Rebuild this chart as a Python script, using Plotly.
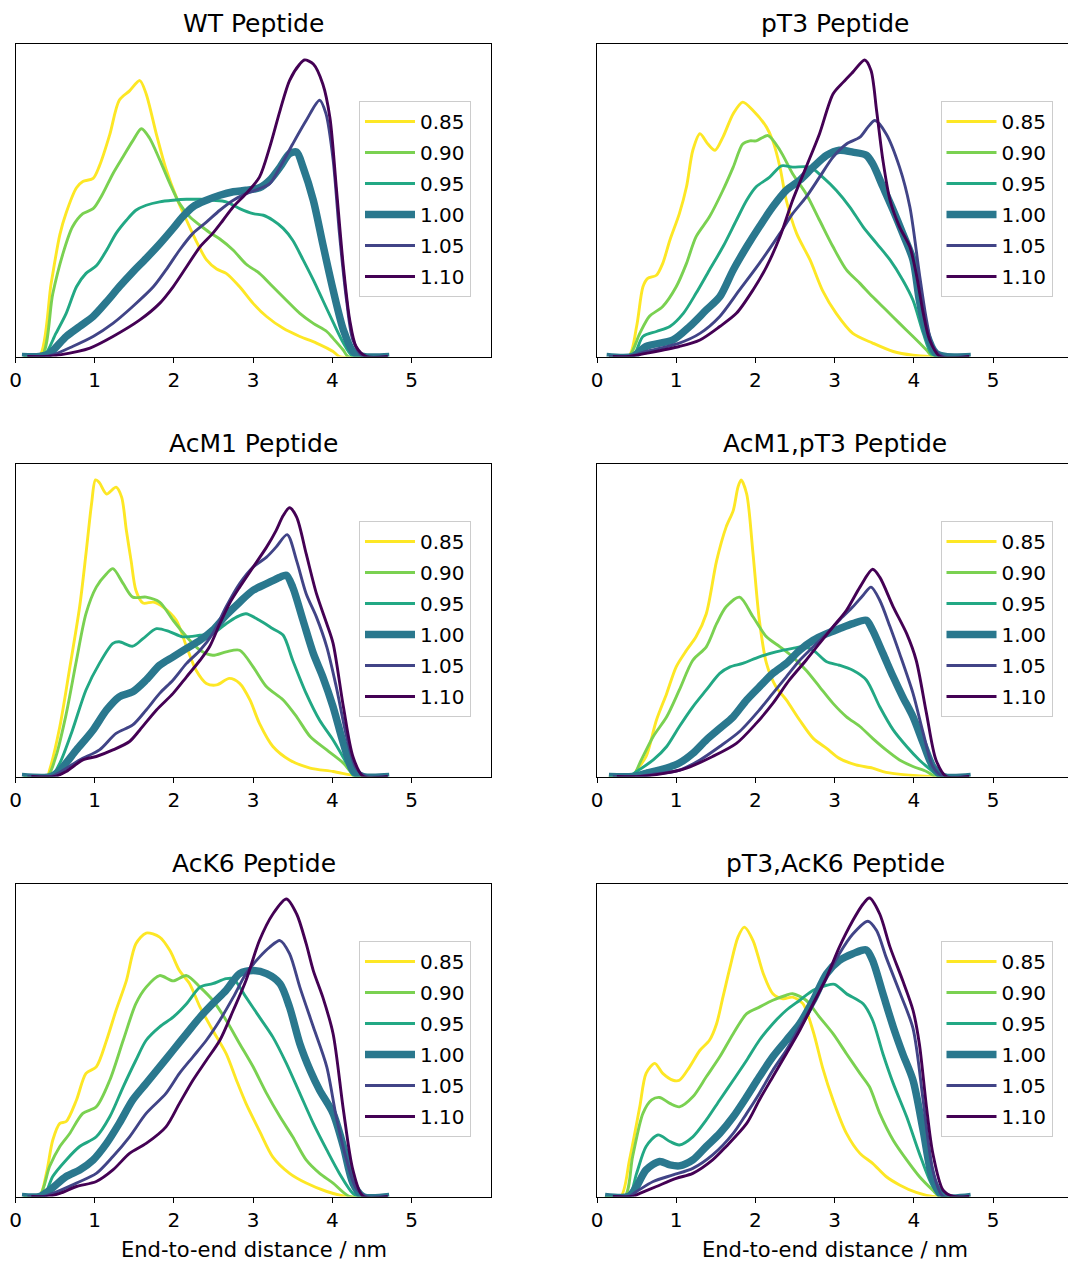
import plotly.graph_objects as go

# ---------------- labels / styling lists ----------------
conc_labels = ["0.85", "0.90", "0.95", "1.00", "1.05", "1.10"]
colors = ["#fde725", "#7ad151", "#22a884", "#2a788e", "#414487", "#440154"]
widths = [2.9, 2.9, 2.9, 7.5, 2.9, 2.9]
panel_titles = ["WT Peptide", "pT3 Peptide", "AcM1 Peptide",
                "AcM1,pT3 Peptide", "AcK6 Peptide", "pT3,AcK6 Peptide"]
x_tick_vals = [0, 1, 2, 3, 4, 5]
x_label = "End-to-end distance / nm"

# ---------------- WT ----------------
wt_085_x = [0.1, 0.3, 0.45, 0.56, 0.64, 0.77, 0.85, 0.98, 1.06, 1.19, 1.31, 1.44, 1.57, 1.65, 1.78, 1.90, 2.03, 2.16, 2.28, 2.41, 2.54, 2.66, 2.83, 3.0, 3.17, 3.38, 3.59, 3.80, 4.01, 4.09, 4.7]
wt_085_y = [0, 0, 0.234, 0.39, 0.46, 0.54, 0.56, 0.57, 0.61, 0.71, 0.82, 0.85, 0.883, 0.84, 0.71, 0.60, 0.51, 0.436, 0.37, 0.31, 0.28, 0.266, 0.223, 0.17, 0.128, 0.09, 0.064, 0.043, 0.016, 0, 0]
wt_090_x = [0.1, 0.33, 0.47, 0.6, 0.72, 0.85, 0.98, 1.10, 1.23, 1.36, 1.48, 1.59, 1.69, 1.82, 1.95, 2.07, 2.2, 2.33, 2.45, 2.58, 2.75, 2.91, 3.08, 3.25, 3.42, 3.59, 3.76, 3.93, 4.01, 4.14, 4.2, 4.7]
wt_090_y = [0, 0, 0.20, 0.33, 0.415, 0.457, 0.473, 0.52, 0.585, 0.64, 0.69, 0.729, 0.70, 0.63, 0.553, 0.49, 0.447, 0.42, 0.397, 0.376, 0.34, 0.296, 0.266, 0.223, 0.18, 0.138, 0.106, 0.08, 0.058, 0.02, 0, 0]
wt_095_x = [0.1, 0.35, 0.51, 0.64, 0.77, 0.89, 1.02, 1.15, 1.27, 1.4, 1.52, 1.65, 1.82, 1.99, 2.16, 2.33, 2.49, 2.66, 2.83, 3.0, 3.13, 3.25, 3.38, 3.5, 3.63, 3.76, 3.88, 4.01, 4.14, 4.24, 4.35, 4.7]
wt_095_y = [0, 0, 0.074, 0.138, 0.223, 0.266, 0.29, 0.34, 0.394, 0.436, 0.468, 0.484, 0.495, 0.5, 0.503, 0.503, 0.5, 0.495, 0.473, 0.457, 0.452, 0.436, 0.41, 0.372, 0.31, 0.245, 0.18, 0.11, 0.043, 0.005, 0, 0]
wt_100_x = [0.08, 0.3, 0.43, 0.64, 0.81, 0.98, 1.15, 1.31, 1.48, 1.65, 1.82, 1.99, 2.11, 2.24, 2.41, 2.58, 2.75, 2.91, 3.08, 3.21, 3.34, 3.46, 3.55, 3.63, 3.76, 3.88, 4.01, 4.14, 4.26, 4.39, 4.72]
wt_100_y = [0, 0, 0.01, 0.064, 0.096, 0.128, 0.175, 0.223, 0.27, 0.314, 0.36, 0.41, 0.447, 0.479, 0.5, 0.516, 0.527, 0.532, 0.54, 0.564, 0.606, 0.649, 0.654, 0.606, 0.5, 0.36, 0.213, 0.085, 0.016, 0, 0]
wt_105_x = [0.15, 0.35, 0.47, 0.72, 0.98, 1.23, 1.48, 1.74, 1.9, 2.07, 2.24, 2.41, 2.58, 2.75, 2.91, 3.08, 3.21, 3.34, 3.5, 3.67, 3.84, 3.92, 4.01, 4.09, 4.18, 4.26, 4.39, 4.7]
wt_105_y = [0, 0, 0.005, 0.032, 0.064, 0.106, 0.16, 0.223, 0.277, 0.34, 0.394, 0.43, 0.468, 0.5, 0.521, 0.537, 0.553, 0.606, 0.68, 0.755, 0.82, 0.777, 0.63, 0.394, 0.18, 0.053, 0, 0]
wt_110_x = [0.15, 0.4, 0.56, 0.94, 1.23, 1.57, 1.82, 1.99, 2.16, 2.33, 2.49, 2.62, 2.75, 2.91, 3.08, 3.21, 3.34, 3.46, 3.59, 3.65, 3.76, 3.88, 3.97, 4.05, 4.14, 4.22, 4.3, 4.43, 4.7]
wt_110_y = [0, 0, 0.005, 0.027, 0.064, 0.117, 0.17, 0.223, 0.287, 0.351, 0.394, 0.436, 0.479, 0.521, 0.574, 0.67, 0.787, 0.883, 0.936, 0.949, 0.936, 0.872, 0.764, 0.543, 0.287, 0.117, 0.032, 0, 0]

# ---------------- pT3 ----------------
pt3_085_x = [0.15, 0.4, 0.5, 0.58, 0.64, 0.75, 0.83, 0.92, 1.04, 1.13, 1.21, 1.3, 1.4, 1.49, 1.59, 1.72, 1.84, 1.97, 2.14, 2.22, 2.31, 2.39, 2.52, 2.69, 2.85, 3.02, 3.23, 3.48, 3.74, 3.99, 4.2, 4.7]
pt3_085_y = [0, 0, 0.096, 0.223, 0.25, 0.26, 0.298, 0.372, 0.457, 0.543, 0.66, 0.713, 0.68, 0.66, 0.702, 0.777, 0.814, 0.787, 0.734, 0.69, 0.606, 0.5, 0.394, 0.309, 0.21, 0.138, 0.074, 0.043, 0.016, 0.004, 0, 0]
pt3_090_x = [0.15, 0.4, 0.54, 0.66, 0.83, 1.0, 1.13, 1.25, 1.42, 1.59, 1.72, 1.84, 1.93, 2.01, 2.16, 2.31, 2.47, 2.64, 2.81, 2.98, 3.15, 3.32, 3.48, 3.65, 3.82, 3.99, 4.16, 4.24, 4.7]
pt3_090_y = [0, 0, 0.074, 0.128, 0.16, 0.223, 0.298, 0.383, 0.447, 0.532, 0.606, 0.68, 0.69, 0.69, 0.707, 0.66, 0.585, 0.521, 0.436, 0.351, 0.277, 0.234, 0.191, 0.149, 0.106, 0.064, 0.021, 0, 0]
pt3_095_x = [0.15, 0.45, 0.58, 0.75, 0.92, 1.09, 1.25, 1.42, 1.59, 1.76, 1.89, 2.01, 2.18, 2.33, 2.47, 2.69, 2.85, 3.02, 3.19, 3.36, 3.53, 3.7, 3.86, 3.99, 4.12, 4.22, 4.33, 4.7]
pt3_095_y = [0, 0, 0.064, 0.08, 0.096, 0.138, 0.202, 0.277, 0.351, 0.436, 0.5, 0.543, 0.574, 0.61, 0.606, 0.606, 0.574, 0.532, 0.479, 0.415, 0.362, 0.309, 0.245, 0.18, 0.074, 0.01, 0, 0]
pt3_100_x = [0.12, 0.45, 0.62, 0.96, 1.17, 1.38, 1.55, 1.72, 1.89, 2.05, 2.22, 2.39, 2.56, 2.73, 2.9, 3.06, 3.23, 3.4, 3.48, 3.61, 3.74, 3.86, 3.99, 4.07, 4.16, 4.28, 4.4, 4.72]
pt3_100_y = [0, 0, 0.032, 0.053, 0.096, 0.149, 0.191, 0.277, 0.351, 0.415, 0.479, 0.532, 0.564, 0.606, 0.644, 0.66, 0.654, 0.644, 0.617, 0.543, 0.468, 0.394, 0.309, 0.18, 0.074, 0.01, 0, 0]
pt3_105_x = [0.15, 0.4, 0.62, 1.04, 1.3, 1.55, 1.8, 2.05, 2.31, 2.47, 2.64, 2.81, 2.98, 3.15, 3.32, 3.42, 3.51, 3.65, 3.82, 3.95, 4.07, 4.16, 4.24, 4.37, 4.7]
pt3_105_y = [0, 0, 0.016, 0.043, 0.074, 0.128, 0.213, 0.298, 0.394, 0.457, 0.51, 0.574, 0.638, 0.68, 0.702, 0.734, 0.755, 0.713, 0.606, 0.479, 0.266, 0.117, 0.032, 0, 0]
pt3_110_x = [0.2, 0.4, 0.62, 1.04, 1.3, 1.55, 1.76, 1.97, 2.14, 2.31, 2.47, 2.64, 2.81, 2.98, 3.11, 3.23, 3.38, 3.46, 3.53, 3.61, 3.7, 3.82, 3.95, 4.03, 4.12, 4.2, 4.33, 4.7]
pt3_110_y = [0, 0, 0.01, 0.032, 0.053, 0.096, 0.138, 0.213, 0.287, 0.383, 0.5, 0.606, 0.713, 0.84, 0.878, 0.91, 0.949, 0.915, 0.787, 0.628, 0.5, 0.415, 0.351, 0.266, 0.138, 0.053, 0, 0]

# ---------------- AcM1 ----------------
acm1_085_x = [0.1, 0.4, 0.43, 0.56, 0.68, 0.81, 0.89, 0.96, 1.01, 1.06, 1.15, 1.27, 1.34, 1.4, 1.46, 1.52, 1.61, 1.74, 1.86, 2.03, 2.16, 2.28, 2.41, 2.54, 2.7, 2.83, 2.96, 3.08, 3.25, 3.46, 3.72, 4.01, 4.26, 4.4, 4.7]
acm1_085_y = [0, 0, 0.02, 0.16, 0.34, 0.543, 0.713, 0.872, 0.949, 0.94, 0.904, 0.926, 0.894, 0.787, 0.69, 0.596, 0.555, 0.558, 0.543, 0.5, 0.415, 0.34, 0.298, 0.293, 0.314, 0.298, 0.245, 0.17, 0.096, 0.053, 0.027, 0.016, 0.004, 0, 0]
acm1_090_x = [0.1, 0.4, 0.51, 0.64, 0.77, 0.89, 1.02, 1.15, 1.23, 1.36, 1.48, 1.65, 1.82, 1.99, 2.16, 2.33, 2.49, 2.66, 2.83, 3.0, 3.17, 3.38, 3.55, 3.72, 3.93, 4.14, 4.3, 4.7]
acm1_090_y = [0, 0, 0.064, 0.2, 0.372, 0.521, 0.606, 0.649, 0.665, 0.617, 0.574, 0.574, 0.558, 0.5, 0.447, 0.404, 0.388, 0.399, 0.404, 0.351, 0.287, 0.245, 0.191, 0.128, 0.085, 0.043, 0, 0]
acm1_095_x = [0.1, 0.45, 0.56, 0.72, 0.89, 1.06, 1.23, 1.31, 1.48, 1.61, 1.78, 1.95, 2.11, 2.33, 2.49, 2.66, 2.79, 2.91, 3.08, 3.25, 3.38, 3.5, 3.67, 3.84, 4.01, 4.18, 4.28, 4.7]
acm1_095_y = [0, 0, 0.043, 0.149, 0.277, 0.362, 0.426, 0.431, 0.417, 0.441, 0.473, 0.463, 0.447, 0.452, 0.457, 0.489, 0.51, 0.521, 0.5, 0.473, 0.452, 0.372, 0.266, 0.18, 0.117, 0.043, 0, 0]
acm1_100_x = [0.08, 0.45, 0.56, 0.77, 0.98, 1.15, 1.31, 1.48, 1.65, 1.82, 1.99, 2.16, 2.33, 2.49, 2.66, 2.83, 3.0, 3.17, 3.34, 3.42, 3.5, 3.63, 3.76, 3.88, 4.01, 4.14, 4.26, 4.39, 4.72]
acm1_100_y = [0, 0, 0.02, 0.085, 0.149, 0.213, 0.255, 0.271, 0.309, 0.356, 0.383, 0.41, 0.436, 0.468, 0.516, 0.558, 0.596, 0.617, 0.638, 0.644, 0.606, 0.5, 0.394, 0.319, 0.223, 0.106, 0.02, 0, 0]
acm1_105_x = [0.15, 0.45, 0.56, 0.81, 1.06, 1.27, 1.48, 1.65, 1.82, 1.99, 2.16, 2.33, 2.49, 2.66, 2.83, 3.0, 3.17, 3.29, 3.43, 3.55, 3.67, 3.8, 3.93, 4.05, 4.18, 4.3, 4.43, 4.7]
acm1_105_y = [0, 0, 0.013, 0.053, 0.085, 0.138, 0.165, 0.213, 0.266, 0.309, 0.362, 0.404, 0.457, 0.543, 0.617, 0.67, 0.702, 0.734, 0.774, 0.69, 0.585, 0.51, 0.415, 0.287, 0.128, 0.027, 0, 0]
acm1_110_x = [0.2, 0.5, 0.64, 0.85, 1.02, 1.23, 1.44, 1.57, 1.78, 1.99, 2.16, 2.33, 2.45, 2.58, 2.7, 2.83, 3.0, 3.17, 3.29, 3.38, 3.46, 3.55, 3.67, 3.8, 3.93, 4.01, 4.14, 4.26, 4.39, 4.7]
acm1_110_y = [0, 0, 0.016, 0.053, 0.064, 0.085, 0.112, 0.149, 0.213, 0.266, 0.319, 0.372, 0.415, 0.489, 0.553, 0.606, 0.67, 0.734, 0.787, 0.835, 0.86, 0.83, 0.713, 0.585, 0.489, 0.426, 0.223, 0.064, 0, 0]

# ---------------- AcM1,pT3 ----------------
acm1pt3_085_x = [0.15, 0.45, 0.5, 0.62, 0.75, 0.88, 1.0, 1.13, 1.25, 1.38, 1.51, 1.63, 1.72, 1.78, 1.82, 1.89, 1.97, 2.05, 2.14, 2.26, 2.39, 2.56, 2.73, 2.9, 3.06, 3.27, 3.48, 3.65, 3.95, 4.2, 4.7]
acm1pt3_085_y = [0, 0, 0.02, 0.064, 0.18, 0.266, 0.351, 0.404, 0.447, 0.521, 0.69, 0.798, 0.851, 0.926, 0.949, 0.904, 0.713, 0.5, 0.362, 0.287, 0.245, 0.18, 0.122, 0.09, 0.058, 0.037, 0.027, 0.013, 0.004, 0, 0]
acm1pt3_090_x = [0.15, 0.45, 0.54, 0.71, 0.88, 1.04, 1.21, 1.38, 1.51, 1.63, 1.8, 1.97, 2.14, 2.31, 2.47, 2.64, 2.81, 2.98, 3.15, 3.32, 3.48, 3.65, 3.82, 3.99, 4.16, 4.28, 4.7]
acm1pt3_090_y = [0, 0, 0.043, 0.128, 0.191, 0.277, 0.372, 0.415, 0.489, 0.543, 0.574, 0.511, 0.447, 0.415, 0.383, 0.34, 0.287, 0.234, 0.191, 0.16, 0.122, 0.085, 0.053, 0.032, 0.016, 0, 0]
acm1pt3_095_x = [0.15, 0.4, 0.5, 0.71, 0.88, 1.04, 1.21, 1.38, 1.55, 1.68, 1.84, 2.05, 2.26, 2.47, 2.6, 2.73, 2.9, 3.06, 3.23, 3.4, 3.57, 3.74, 3.91, 4.07, 4.24, 4.33, 4.7]
acm1pt3_095_y = [0, 0, 0.016, 0.053, 0.096, 0.16, 0.223, 0.277, 0.33, 0.351, 0.362, 0.383, 0.399, 0.41, 0.415, 0.404, 0.367, 0.356, 0.34, 0.309, 0.223, 0.149, 0.096, 0.053, 0.016, 0, 0]
acm1pt3_100_x = [0.15, 0.45, 0.62, 0.88, 1.04, 1.21, 1.38, 1.55, 1.72, 1.89, 2.05, 2.22, 2.39, 2.56, 2.73, 2.9, 3.06, 3.23, 3.4, 3.48, 3.61, 3.74, 3.86, 3.99, 4.12, 4.24, 4.37, 4.72]
acm1pt3_100_y = [0, 0, 0.01, 0.027, 0.043, 0.074, 0.117, 0.154, 0.191, 0.245, 0.287, 0.33, 0.362, 0.404, 0.436, 0.457, 0.473, 0.489, 0.5, 0.468, 0.394, 0.319, 0.255, 0.191, 0.106, 0.032, 0, 0]
acm1pt3_105_x = [0.2, 0.5, 0.79, 1.04, 1.3, 1.55, 1.8, 2.05, 2.22, 2.39, 2.56, 2.73, 2.9, 3.06, 3.23, 3.36, 3.46, 3.57, 3.7, 3.82, 3.99, 4.12, 4.24, 4.37, 4.7]
acm1pt3_105_y = [0, 0, 0.01, 0.02, 0.053, 0.096, 0.144, 0.213, 0.266, 0.319, 0.372, 0.415, 0.457, 0.5, 0.543, 0.58, 0.606, 0.564, 0.479, 0.394, 0.266, 0.138, 0.032, 0, 0]
acm1pt3_110_x = [0.25, 0.55, 0.83, 1.13, 1.46, 1.76, 2.01, 2.22, 2.43, 2.64, 2.81, 2.98, 3.15, 3.32, 3.48, 3.57, 3.74, 3.91, 4.03, 4.16, 4.28, 4.41, 4.7]
acm1pt3_110_y = [0, 0, 0.009, 0.027, 0.064, 0.106, 0.17, 0.234, 0.309, 0.372, 0.426, 0.479, 0.532, 0.606, 0.663, 0.638, 0.543, 0.457, 0.372, 0.202, 0.053, 0, 0]

# ---------------- AcK6 ----------------
ack6_085_x = [0.1, 0.3, 0.39, 0.47, 0.56, 0.64, 0.77, 0.89, 1.02, 1.15, 1.27, 1.4, 1.52, 1.65, 1.82, 1.95, 2.07, 2.2, 2.33, 2.49, 2.66, 2.79, 2.91, 3.08, 3.25, 3.46, 3.67, 3.93, 4.18, 4.7]
ack6_085_y = [0, 0, 0.074, 0.18, 0.234, 0.24, 0.309, 0.394, 0.415, 0.5, 0.596, 0.691, 0.809, 0.843, 0.83, 0.787, 0.723, 0.68, 0.606, 0.532, 0.457, 0.372, 0.298, 0.21, 0.126, 0.074, 0.043, 0.016, 0, 0]
ack6_090_x = [0.1, 0.3, 0.43, 0.56, 0.68, 0.85, 1.02, 1.19, 1.36, 1.52, 1.65, 1.82, 1.99, 2.16, 2.33, 2.49, 2.66, 2.83, 3.0, 3.17, 3.34, 3.5, 3.67, 3.84, 4.01, 4.22, 4.7]
ack6_090_y = [0, 0, 0.096, 0.16, 0.2, 0.266, 0.287, 0.372, 0.5, 0.617, 0.67, 0.707, 0.69, 0.707, 0.67, 0.628, 0.564, 0.489, 0.415, 0.33, 0.255, 0.191, 0.117, 0.074, 0.043, 0, 0]
ack6_095_x = [0.1, 0.35, 0.47, 0.64, 0.81, 1.02, 1.19, 1.36, 1.52, 1.65, 1.82, 1.99, 2.16, 2.33, 2.49, 2.66, 2.75, 2.91, 3.08, 3.25, 3.42, 3.59, 3.76, 3.93, 4.09, 4.26, 4.35, 4.7]
ack6_095_y = [0, 0, 0.064, 0.117, 0.16, 0.191, 0.255, 0.351, 0.436, 0.5, 0.543, 0.574, 0.617, 0.67, 0.681, 0.697, 0.697, 0.638, 0.574, 0.51, 0.426, 0.33, 0.234, 0.149, 0.074, 0.01, 0, 0]
ack6_100_x = [0.08, 0.3, 0.43, 0.64, 0.81, 0.98, 1.15, 1.31, 1.48, 1.65, 1.82, 1.99, 2.16, 2.33, 2.49, 2.66, 2.83, 3.0, 3.17, 3.34, 3.46, 3.59, 3.72, 3.84, 4.01, 4.14, 4.26, 4.39, 4.72]
ack6_100_y = [0, 0, 0.02, 0.064, 0.085, 0.117, 0.17, 0.234, 0.309, 0.362, 0.415, 0.468, 0.521, 0.574, 0.617, 0.66, 0.713, 0.723, 0.713, 0.681, 0.606, 0.489, 0.404, 0.34, 0.266, 0.16, 0.043, 0, 0]
ack6_105_x = [0.15, 0.35, 0.47, 0.77, 1.02, 1.23, 1.44, 1.65, 1.9, 2.07, 2.24, 2.41, 2.58, 2.75, 2.91, 3.08, 3.21, 3.34, 3.46, 3.59, 3.76, 3.93, 4.05, 4.18, 4.3, 4.43, 4.7]
ack6_105_y = [0, 0, 0.01, 0.043, 0.074, 0.128, 0.191, 0.266, 0.33, 0.394, 0.447, 0.5, 0.564, 0.638, 0.713, 0.766, 0.798, 0.819, 0.777, 0.67, 0.543, 0.415, 0.255, 0.117, 0.027, 0, 0]
ack6_110_x = [0.2, 0.4, 0.56, 0.77, 1.02, 1.23, 1.44, 1.65, 1.9, 2.07, 2.24, 2.41, 2.58, 2.75, 2.91, 3.08, 3.25, 3.42, 3.55, 3.67, 3.76, 3.88, 4.01, 4.14, 4.26, 4.39, 4.7]
ack6_110_y = [0, 0, 0.01, 0.032, 0.048, 0.085, 0.138, 0.17, 0.223, 0.298, 0.372, 0.436, 0.5, 0.596, 0.691, 0.819, 0.904, 0.952, 0.904, 0.809, 0.723, 0.638, 0.521, 0.277, 0.085, 0, 0]

# ---------------- pT3,AcK6 ----------------
pt3ack6_085_x = [0.1, 0.3, 0.41, 0.54, 0.62, 0.73, 0.83, 0.96, 1.04, 1.17, 1.3, 1.42, 1.51, 1.59, 1.68, 1.78, 1.86, 1.97, 2.1, 2.22, 2.35, 2.47, 2.6, 2.73, 2.85, 2.98, 3.15, 3.32, 3.48, 3.65, 3.82, 4.03, 4.24, 4.7]
pt3ack6_085_y = [0, 0, 0.117, 0.287, 0.394, 0.426, 0.394, 0.372, 0.372, 0.415, 0.468, 0.5, 0.553, 0.638, 0.734, 0.83, 0.862, 0.819, 0.713, 0.649, 0.633, 0.638, 0.617, 0.528, 0.411, 0.309, 0.202, 0.138, 0.106, 0.064, 0.037, 0.013, 0, 0]
pt3ack6_090_x = [0.1, 0.35, 0.45, 0.58, 0.69, 0.79, 0.92, 1.04, 1.21, 1.38, 1.55, 1.72, 1.89, 2.05, 2.22, 2.39, 2.47, 2.64, 2.81, 2.98, 3.15, 3.32, 3.44, 3.57, 3.74, 3.91, 4.07, 4.24, 4.33, 4.7]
pt3ack6_090_y = [0, 0, 0.128, 0.266, 0.309, 0.317, 0.298, 0.287, 0.319, 0.383, 0.447, 0.521, 0.585, 0.606, 0.628, 0.644, 0.649, 0.628, 0.574, 0.521, 0.457, 0.394, 0.351, 0.266, 0.18, 0.117, 0.064, 0.02, 0, 0]
pt3ack6_095_x = [0.1, 0.4, 0.5, 0.62, 0.77, 0.92, 1.04, 1.21, 1.38, 1.55, 1.72, 1.89, 2.05, 2.22, 2.39, 2.56, 2.73, 2.9, 3.0, 3.15, 3.36, 3.48, 3.61, 3.74, 3.91, 4.07, 4.24, 4.37, 4.7]
pt3ack6_095_y = [0, 0, 0.074, 0.16, 0.197, 0.176, 0.165, 0.191, 0.245, 0.309, 0.372, 0.436, 0.5, 0.553, 0.596, 0.628, 0.66, 0.676, 0.679, 0.649, 0.617, 0.564, 0.457, 0.362, 0.255, 0.138, 0.032, 0, 0]
pt3ack6_100_x = [0.1, 0.4, 0.5, 0.62, 0.79, 0.92, 1.04, 1.21, 1.38, 1.55, 1.72, 1.89, 2.05, 2.22, 2.39, 2.56, 2.73, 2.9, 3.06, 3.23, 3.4, 3.48, 3.61, 3.74, 3.86, 3.99, 4.12, 4.24, 4.37, 4.72]
pt3ack6_100_y = [0, 0, 0.032, 0.085, 0.112, 0.101, 0.098, 0.117, 0.16, 0.202, 0.255, 0.319, 0.383, 0.447, 0.5, 0.553, 0.628, 0.713, 0.755, 0.777, 0.789, 0.755, 0.649, 0.543, 0.457, 0.372, 0.209, 0.053, 0, 0]
pt3ack6_105_x = [0.2, 0.4, 0.5, 0.71, 0.96, 1.21, 1.46, 1.72, 1.89, 2.05, 2.22, 2.39, 2.56, 2.73, 2.9, 3.06, 3.23, 3.42, 3.53, 3.65, 3.82, 3.99, 4.12, 4.24, 4.37, 4.7]
pt3ack6_105_y = [0, 0, 0.016, 0.048, 0.069, 0.09, 0.133, 0.202, 0.266, 0.33, 0.404, 0.468, 0.543, 0.617, 0.702, 0.777, 0.84, 0.881, 0.851, 0.766, 0.655, 0.538, 0.304, 0.085, 0, 0]
pt3ack6_110_x = [0.2, 0.45, 0.54, 0.75, 1.0, 1.21, 1.46, 1.63, 1.89, 2.05, 2.22, 2.39, 2.56, 2.73, 2.9, 3.06, 3.23, 3.36, 3.44, 3.57, 3.7, 3.86, 3.99, 4.07, 4.16, 4.24, 4.37, 4.5, 4.7]
pt3ack6_110_y = [0, 0, 0.01, 0.032, 0.058, 0.074, 0.117, 0.16, 0.234, 0.309, 0.383, 0.457, 0.532, 0.617, 0.702, 0.798, 0.883, 0.936, 0.955, 0.904, 0.798, 0.691, 0.596, 0.489, 0.287, 0.138, 0.02, 0, 0]

panels = [
    [(wt_085_x, wt_085_y), (wt_090_x, wt_090_y), (wt_095_x, wt_095_y),
     (wt_100_x, wt_100_y), (wt_105_x, wt_105_y), (wt_110_x, wt_110_y)],
    [(pt3_085_x, pt3_085_y), (pt3_090_x, pt3_090_y), (pt3_095_x, pt3_095_y),
     (pt3_100_x, pt3_100_y), (pt3_105_x, pt3_105_y), (pt3_110_x, pt3_110_y)],
    [(acm1_085_x, acm1_085_y), (acm1_090_x, acm1_090_y), (acm1_095_x, acm1_095_y),
     (acm1_100_x, acm1_100_y), (acm1_105_x, acm1_105_y), (acm1_110_x, acm1_110_y)],
    [(acm1pt3_085_x, acm1pt3_085_y), (acm1pt3_090_x, acm1pt3_090_y), (acm1pt3_095_x, acm1pt3_095_y),
     (acm1pt3_100_x, acm1pt3_100_y), (acm1pt3_105_x, acm1pt3_105_y), (acm1pt3_110_x, acm1pt3_110_y)],
    [(ack6_085_x, ack6_085_y), (ack6_090_x, ack6_090_y), (ack6_095_x, ack6_095_y),
     (ack6_100_x, ack6_100_y), (ack6_105_x, ack6_105_y), (ack6_110_x, ack6_110_y)],
    [(pt3ack6_085_x, pt3ack6_085_y), (pt3ack6_090_x, pt3ack6_090_y), (pt3ack6_095_x, pt3ack6_095_y),
     (pt3ack6_100_x, pt3ack6_100_y), (pt3ack6_105_x, pt3ack6_105_y), (pt3ack6_110_x, pt3ack6_110_y)],
]

# ---------------- layout geometry (pixels) ----------------
W, H = 1068, 1262
FONT = "DejaVu Sans"
col_left_px = [15.5, 597.0]
col_right_px = [491.0, 1068.0]
row_top_px = [44.0, 464.0, 884.0]
row_bot_px = [356.5, 776.5, 1196.5]
px_per_unit = 79.2

fig = go.Figure()
layout = dict(
    width=W, height=H, autosize=False,
    margin=dict(l=0, r=0, t=0, b=0, autoexpand=False),
    paper_bgcolor="white", plot_bgcolor="white",
    showlegend=True,
    font=dict(family=FONT, color="black"),
)
annotations = []

for i, series in enumerate(panels):
    r, c = divmod(i, 2)
    ax = "" if i == 0 else str(i + 1)
    lg = "legend" if i == 0 else "legend" + str(i + 1)
    for k, (xs, ys) in enumerate(series):
        fig.add_trace(go.Scatter(
            x=xs, y=ys, mode="lines", name=conc_labels[k],
            line=dict(color=colors[k], width=widths[k], shape="spline", smoothing=0.8),
            xaxis="x" + ax, yaxis="y" + ax, legend=lg,
            legendgroup="p%d_%d" % (i, k), hoverinfo="skip",
        ))
    x0, x1 = col_left_px[c], col_right_px[c]
    y0, y1 = row_top_px[r], row_bot_px[r]
    xmax = (x1 - x0) / px_per_unit
    layout["xaxis" + ax] = dict(
        domain=[x0 / W, x1 / W], anchor="y" + ax, range=[0, xmax],
        tickvals=x_tick_vals, ticks="outside", ticklen=5, tickwidth=1.2,
        tickcolor="black", showline=True, linecolor="black", linewidth=1.2,
        mirror=True, showgrid=False, zeroline=False, automargin=False,
        tickfont=dict(family=FONT, size=20, color="black"),
    )
    layout["yaxis" + ax] = dict(
        domain=[1 - y1 / H, 1 - y0 / H], anchor="x" + ax, range=[0, 1.0],
        showticklabels=False, ticks="", showline=True, linecolor="black",
        linewidth=1.2, mirror=(c == 0), showgrid=False, zeroline=False,
        automargin=False,
    )
    layout[lg] = dict(
        x=(x0 + 343.5) / W, y=1 - (y0 + 57) / H, xanchor="left", yanchor="top",
        xref="paper", yref="paper",
        bgcolor="rgba(255,255,255,0.85)", bordercolor="#cccccc", borderwidth=1,
        font=dict(family=FONT, size=20, color="black"),
        tracegroupgap=2, itemwidth=50,
    )
    cx = (x0 + (x0 + 476)) / 2 / W
    annotations.append(dict(
        text=panel_titles[i], x=cx, y=1 - (y0 - 21) / H, xref="paper", yref="paper",
        xanchor="center", yanchor="middle", showarrow=False,
        font=dict(family=FONT, size=25, color="black"),
    ))
    if r == 2:
        annotations.append(dict(
            text=x_label, x=cx, y=1 - (y1 + 53) / H, xref="paper", yref="paper",
            xanchor="center", yanchor="middle", showarrow=False,
            font=dict(family=FONT, size=21, color="black"),
        ))

layout["annotations"] = annotations
fig.update_layout(**layout)
fig.write_html("out.html")
